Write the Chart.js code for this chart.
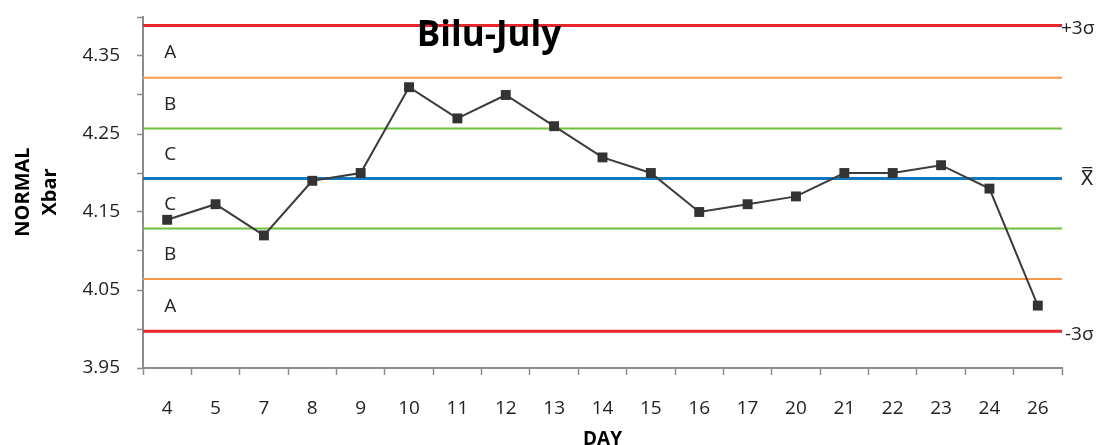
<!DOCTYPE html>
<html>
<head>
<meta charset="utf-8">
<script src="https://cdn.jsdelivr.net/npm/chart.js@4"></script>
<style>
  html, body { margin: 0; padding: 0; background: #fff; }
  #wrap { width: 1099px; height: 445px; }
</style>
</head>
<body>
<div id="wrap"><canvas id="myChart" width="1099" height="445"></canvas></div>
<script>
"use strict";

// DATA
const days = ["4", "5", "7", "8", "9", "10", "11", "12", "13", "14", "15", "16", "17", "20", "21", "22", "23", "24", "26"];
const xbar = [4.14, 4.16, 4.12, 4.19, 4.2, 4.31, 4.27, 4.3, 4.26, 4.22, 4.2, 4.15, 4.16, 4.17, 4.2, 4.2, 4.21, 4.18, 4.03];

// control lines, top to bottom: +3s, +2s, +1s, mean, -1s, -2s, -3s
const limitValues = [4.389, 4.322, 4.257, 4.193, 4.129, 4.064, 3.997];
const limitColors = ["#e8262b", "#f7984a", "#6cc23a", "#1177c2", "#6cc23a", "#f7984a", "#e8262b"];
const limitWidths = [3, 2, 2, 3, 2, 2, 3];
const zoneLabels = ["A", "B", "C", "C", "B", "A"];

const yMin = 3.95;
const yMax = 4.4;
const yStep = 0.05;

const FONT = "'Open Sans', sans-serif";
const AXIS_GRAY = "#8c8c8c";

// control lines + zone letters, under the data line
const controlLines = {
  id: "controlLines",
  beforeDatasetsDraw(chart) {
    const { ctx, chartArea, scales } = chart;
    const y = scales.y;
    ctx.save();
    limitValues.forEach((v, i) => {
      const py = y.getPixelForValue(v);
      ctx.beginPath();
      ctx.strokeStyle = limitColors[i];
      ctx.lineWidth = limitWidths[i];
      ctx.moveTo(chartArea.left, py);
      ctx.lineTo(chartArea.right, py);
      ctx.stroke();
    });

    ctx.fillStyle = "#222";
    ctx.font = "19px " + FONT;
    ctx.textAlign = "center";
    ctx.textBaseline = "middle";
    const zx = scales.x.getPixelForValue(0) + 3;
    zoneLabels.forEach((lbl, i) => {
      const mid = (limitValues[i] + limitValues[i + 1]) / 2;
      ctx.fillText(lbl, zx, y.getPixelForValue(mid) + 1);
    });
    ctx.restore();
  },
  afterDraw(chart) {
    const { ctx, chartArea, scales } = chart;
    const y = scales.y;
    ctx.save();

    // right side labels
    ctx.fillStyle = "#222";
    ctx.font = "19px " + FONT;
    ctx.textBaseline = "middle";
    ctx.textAlign = "left";
    ctx.fillText("+3σ", chartArea.right - 1, y.getPixelForValue(limitValues[0]) + 3);
    ctx.fillText("-3σ", chartArea.right + 3, y.getPixelForValue(limitValues[6]) + 3);
    ctx.textAlign = "center";
    ctx.font = "19px 'DejaVu Sans', sans-serif";
    ctx.fillText("X\u033F", chartArea.right + 25, y.getPixelForValue(limitValues[3]) + 2);

    // chart title
    ctx.fillStyle = "#000";
    ctx.font = "bold 35px " + FONT;
    ctx.textAlign = "center";
    ctx.textBaseline = "alphabetic";
    ctx.fillText("Bilu-July", 489, 46);

    // axis titles
    ctx.font = "bold 19px " + FONT;
    ctx.textBaseline = "middle";
    ctx.fillText("DAY", (chartArea.left + chartArea.right) / 2, 440);

    ctx.font = "bold 20px " + FONT;
    ctx.translate(23, 192);
    ctx.rotate(-Math.PI / 2);
    ctx.fillText("NORMAL", 0, 0);
    ctx.fillText("Xbar", 0, 27);
    ctx.restore();
  },
};

const ctx = document.getElementById("myChart").getContext("2d");
const myChart = new Chart(ctx, {
  type: "line",
  data: {
    labels: days,
    datasets: [
      {
        label: "Xbar",
        data: xbar,
        borderColor: "#3c3c3c",
        borderWidth: 2,
        pointStyle: "rect",
        pointRadius: 7,
        pointBackgroundColor: "#333",
        pointBorderColor: "#333",
        pointBorderWidth: 0,
        tension: 0,
        fill: false,
      },
    ],
  },
  options: {
    responsive: false,
    animation: false,
    layout: { padding: { top: 17, right: 37, left: 0, bottom: 0 } },
    plugins: {
      legend: { display: false },
      title: { display: false },
      tooltip: { enabled: false },
    },
    scales: {
      x: {
        offset: true,
        grid: {
          offset: true,
          drawOnChartArea: false,
          drawTicks: true,
          tickLength: 7,
          tickColor: AXIS_GRAY,
          tickWidth: 1.5,
        },
        border: { color: AXIS_GRAY, width: 2 },
        ticks: {
          color: "#222",
          font: { family: FONT, size: 19 },
          padding: 22,
          maxRotation: 0,
          autoSkip: false,
        },
        afterFit(scale) {
          scale.height = 77;
        },
      },
      y: {
        min: yMin,
        max: yMax,
        grid: {
          drawOnChartArea: false,
          drawTicks: true,
          tickLength: 6,
          tickColor: AXIS_GRAY,
          tickWidth: 1.5,
        },
        border: { color: AXIS_GRAY, width: 2 },
        ticks: {
          stepSize: yStep,
          color: "#222",
          font: { family: FONT, size: 19 },
          padding: 17,
          callback: (v) => (Math.round(v * 100) % 10 === 5 ? v.toFixed(2) : ""),
        },
        afterFit(scale) {
          scale.width = 143;
          scale.paddingTop = 0;
          scale.paddingBottom = 0;
        },
      },
    },
  },
  plugins: [controlLines],
});
</script>
</body>
</html>
